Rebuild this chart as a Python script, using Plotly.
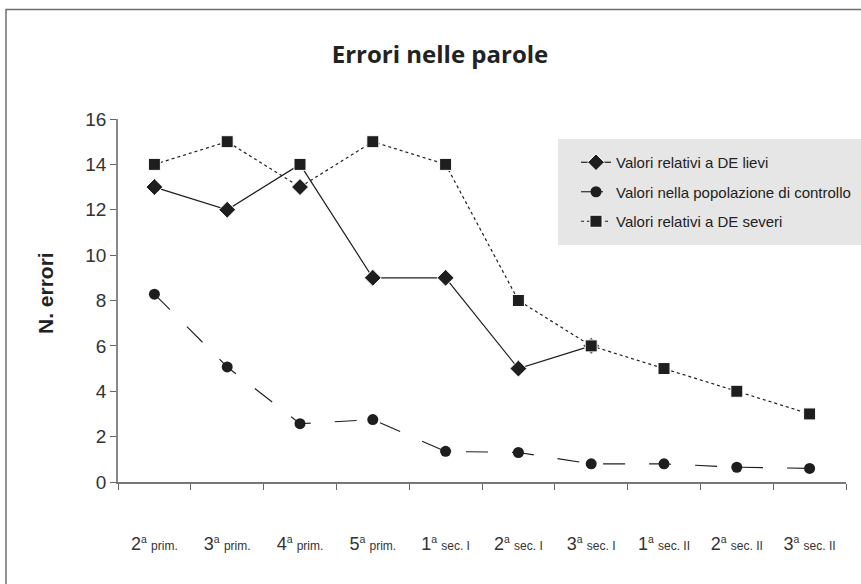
import plotly.graph_objects as go

categories = ["2a prim.", "3a prim.", "4a prim.", "5a prim.", "1a sec. I",
              "2a sec. I", "3a sec. I", "1a sec. II", "2a sec. II", "3a sec. II"]
tick_num = ["2", "3", "4", "5", "1", "2", "3", "1", "2", "3"]
tick_rest = ["prim.", "prim.", "prim.", "prim.", "sec. I", "sec. I", "sec. I",
             "sec. II", "sec. II", "sec. II"]
lievi = [13, 12, 14, 9, 9, 5, 6]
controllo = [8.28, 5.07, 2.57, 2.75, 1.35, 1.3, 0.8, 0.8, 0.65, 0.6]
severi = [14, 15, 13, 15, 14, 8, 6, 5, 4, 3]

names = ["Valori relativi a DE lievi", "Valori nella popolazione di controllo",
         "Valori relativi a DE severi"]

OFF = 0
W, H = 861, 584
L, T = 118 - OFF, 119 - OFF
pw, ph = 728, 363
R, B = W - L - pw, H - T - ph

def px_x(x):
    return (x - OFF - L) / pw

def px_y(y):
    return (T + ph - (y - OFF)) / ph

ink = "#1e1e1e"
fig = go.Figure()

lievi_sym = ["diamond"] * len(lievi)
lievi_sym[2] = "square"
severi_sym = ["square"] * len(severi)
severi_sym[2] = "diamond"

def sizes(syms):
    return [13 if s == "diamond" else 12 for s in syms]

fig.add_trace(go.Scatter(
    x=categories[:len(lievi)], y=lievi, name=names[0], mode="lines+markers",
    line=dict(color=ink, width=1.2), legendgroup="a",
    marker=dict(symbol=lievi_sym, size=sizes(lievi_sym), color=ink, opacity=1)))
fig.add_trace(go.Scatter(
    x=categories, y=controllo, name=names[1], mode="lines+markers",
    line=dict(color=ink, width=1.1, dash="22px,24px"), legendgroup="b",
    marker=dict(symbol="circle", size=11, color=ink, opacity=1)))
fig.add_trace(go.Scatter(
    x=categories, y=severi, name=names[2], mode="lines+markers",
    line=dict(color=ink, width=1.2, dash="3px,3px"), legendgroup="c",
    marker=dict(symbol=severi_sym, size=sizes(severi_sym), color=ink, opacity=1)))

ticktext = [f"<span style='font-size:18px'>{n}</span><sup>a</sup> "
            f"<span style='font-size:12px'>{r}</span>"
            for n, r in zip(tick_num, tick_rest)]

narrow = "Liberation Sans Narrow, Arial Narrow, Liberation Sans, sans-serif"

fig.update_layout(
    width=W, height=H,
    margin=dict(l=L, r=R, t=T, b=B, autoexpand=False),
    paper_bgcolor="white", plot_bgcolor="white",
    showlegend=True,
    title=dict(text="<b>Errori nelle parole</b>", x=px_x(440),
               xref="paper", yref="container", y=1 - (55 - OFF) / H,
               yanchor="middle", xanchor="center",
               font=dict(family="Open Sans, sans-serif", size=24, color="#222")),
    xaxis=dict(
        type="category", categoryorder="array", categoryarray=categories,
        tickmode="array", tickvals=categories, ticktext=ticktext,
        tickson="boundaries", ticks="outside", ticklen=6, tickcolor="#666",
        showline=True, linecolor="#777", linewidth=1.5, showgrid=False,
        ticklabelstandoff=48, range=[-0.5, 9.5], automargin=False,
        tickfont=dict(family=narrow, size=15, color="#333")),
    yaxis=dict(
        range=[0, 16], tickvals=list(range(0, 17, 2)), ticks="outside",
        ticklen=6, tickcolor="#666", showline=True, linecolor="#888",
        linewidth=1.5, showgrid=False, zeroline=False, automargin=False,
        tickfont=dict(family=narrow, size=19, color="#333")),
    legend=dict(x=px_x(576), y=px_y(146), xanchor="left", yanchor="top",
                bgcolor="rgba(0,0,0,0)", traceorder="grouped", tracegroupgap=7,
                font=dict(family=narrow, size=15, color="#222"),
                itemwidth=30),
    shapes=[
        dict(type="rect", xref="paper", yref="paper",
             x0=px_x(558), x1=px_x(900), y0=px_y(245), y1=px_y(139),
             fillcolor="#e6e6e6", line=dict(width=0), layer="below"),
        dict(type="rect", xref="paper", yref="paper",
             x0=px_x(6), x1=px_x(940), y0=px_y(660), y1=px_y(9.5),
             fillcolor="rgba(0,0,0,0)", line=dict(color="#6e6e6e", width=1.5)),
    ],
    annotations=[dict(text="<b>N. errori</b>", xref="paper", yref="paper",
                      x=px_x(45), y=px_y(293), textangle=-90, showarrow=False,
                      xanchor="center", yanchor="middle",
                      font=dict(family="Liberation Sans, Arial, sans-serif",
                                size=21, color="#222"))],
)

fig.write_html("out.html", config={"displayModeBar": False},
               post_script="document.body.style.margin='0';")
